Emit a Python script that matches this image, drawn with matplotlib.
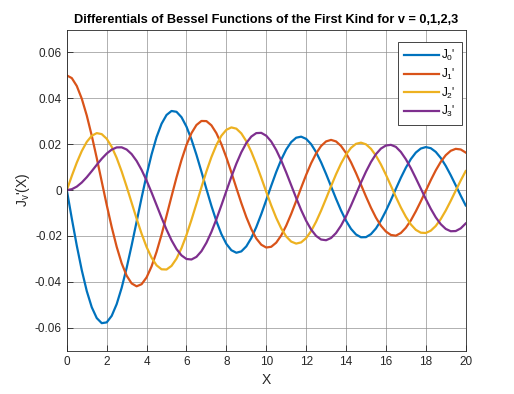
import numpy as np
import matplotlib
matplotlib.use('Agg')
import matplotlib.pyplot as plt

# --- Data (differences of J_v on a 0.1 grid) ---
x = np.linspace(0, 20, 81)

dj0 = [0.0, -0.01240, -0.02423, -0.03492, -0.04401, -0.05106, -0.05579, -0.05801, -0.05767, -0.05483,
       -0.04971, -0.04260, -0.03391, -0.02411, -0.01374, -0.00333, 0.00660, 0.01555, 0.02311, 0.02892,
       0.03276, 0.03450, 0.03414, 0.03179, 0.02767, 0.02207, 0.01538, 0.00803, 0.00047, -0.00686,
       -0.01353, -0.01916, -0.02346, -0.02621, -0.02731, -0.02672, -0.02453, -0.02091, -0.01613, -0.01049,
       -0.00435, 0.00190, 0.00789, 0.01325, 0.01768, 0.02093, 0.02284, 0.02330, 0.02234, 0.02003,
       0.01655, 0.01212, 0.00703, 0.00161, -0.00380, -0.00889, -0.01334, -0.01689, -0.01934, -0.02056,
       -0.02051, -0.01919, -0.01672, -0.01326, -0.00904, -0.00435, 0.00057, 0.00539, 0.00977, 0.01352,
       0.01637, 0.01813, 0.01876, 0.01827, 0.01666, 0.01403, 0.01057, 0.00650, 0.00209, -0.00240,
       -0.00668]

dj1 = [0.05, 0.04883, 0.04539, 0.03986, 0.03252, 0.02374, 0.01399, 0.00375, -0.00645, -0.01610,
       -0.02472, -0.03190, -0.03731, -0.04069, -0.04194, -0.04102, -0.03806, -0.03326, -0.02692, -0.01942,
       -0.01121, -0.00274, 0.00552, 0.01312, 0.01968, 0.02484, 0.02838, 0.03014, 0.03008, 0.02825,
       0.02483, 0.02005, 0.01423, 0.00774, 0.00097, -0.00565, -0.01176, -0.01700, -0.02109, -0.02381,
       -0.02503, -0.02471, -0.02291, -0.01977, -0.01551, -0.01040, -0.00478, 0.00102, 0.00663, 0.01172,
       0.01601, 0.01923, 0.02123, 0.02189, 0.02122, 0.01925, 0.01615, 0.01212, 0.00742, 0.00234,
       -0.00279, -0.00767, -0.01200, -0.01553, -0.01806, -0.01956, -0.01986, -0.01869, -0.01641, -0.01322,
       -0.00926, -0.00489, -0.00029, 0.00433, 0.00862, 0.01232, 0.01522, 0.01714, 0.01799, 0.01772,
       0.01637]

dj2 = [0.0, 0.00619, 0.01199, 0.01704, 0.02102, 0.02368, 0.02485, 0.02441, 0.02239, 0.01887,
       0.01403, 0.00813, 0.00150, -0.00550, -0.01247, -0.01903, -0.02481, -0.02948, -0.03279, -0.03453,
       -0.03462, -0.03304, -0.02988, -0.02530, -0.01957, -0.01299, -0.00592, 0.00125, 0.00814, 0.01439,
       0.01967, 0.02370, 0.02629, 0.02733, 0.02679, 0.02473, 0.02131, 0.01675, 0.01133, 0.00538,
       -0.00075, -0.00669, -0.01211, -0.01670, -0.02021, -0.02245, -0.02332, -0.02279, -0.02093, -0.01785,
       -0.01377, -0.00895, -0.00368, 0.00171, 0.00691, 0.01160, 0.01551, 0.01842, 0.02018, 0.02069,
       0.01996, 0.01802, 0.01503, 0.01118, 0.00671, 0.00190, -0.00298, -0.00758, -0.01163, -0.01496,
       -0.01733, -0.01857, -0.01869, -0.01769, -0.01563, -0.01263, -0.00891, -0.00469, -0.00023, 0.00418,
       0.00829]

dj3 = [0.0, 0.00039, 0.00152, 0.00331, 0.00562, 0.00826, 0.01102, 0.01366, 0.01594, 0.01765,
       0.01861, 0.01865, 0.01770, 0.01570, 0.01271, 0.00880, 0.00415, -0.00105, -0.00653, -0.01202,
       -0.01723, -0.02188, -0.02570, -0.02847, -0.03003, -0.03025, -0.02911, -0.02664, -0.02296, -0.01823,
       -0.01270, -0.00665, -0.00038, 0.00578, 0.01151, 0.01650, 0.02052, 0.02334, 0.02485, 0.02496,
       0.02371, 0.02117, 0.01750, 0.01292, 0.00770, 0.00215, -0.00342, -0.00869, -0.01337, -0.01720,
       -0.01998, -0.02155, -0.02185, -0.02088, -0.01871, -0.01548, -0.01141, -0.00673, -0.00173, 0.00329,
       0.00804, 0.01224, 0.01566, 0.01810, 0.01944, 0.01973, 0.01885, 0.01663, 0.01346, 0.00959,
       0.00519, 0.00066, -0.00386, -0.00814, -0.01188, -0.01486, -0.01692, -0.01793, -0.01785, -0.01669,
       -0.01455]

series = [dj0, dj1, dj2, dj3]
labels = ["J$_0$'", "J$_1$'", "J$_2$'", "J$_3$'"]
colors = ['#0072BD', '#D95319', '#EDB120', '#7E2F8E']

x_ticks = np.arange(0, 21, 2)
y_ticks = [-0.06, -0.04, -0.02, 0, 0.02, 0.04, 0.06]
y_tick_labels = ['-0.06', '-0.04', '-0.02', '0', '0.02', '0.04', '0.06']

plt.rcParams['font.family'] = ['Liberation Sans', 'DejaVu Sans']
plt.rcParams['mathtext.default'] = 'regular'

fig = plt.figure(figsize=(5.14, 3.94), dpi=100)
ax = fig.add_axes([0.13, 0.11, 0.776, 0.815])

for y, lab, c in zip(series, labels, colors):
    ax.plot(x, y, color=c, linewidth=1.6, label=lab)

ax.set_xlim(0, 20)
ax.set_ylim(-0.07, 0.07)
ax.set_xticks(x_ticks)
ax.set_yticks(y_ticks)
ax.set_yticklabels(y_tick_labels)
ax.tick_params(direction='in', length=4, labelsize=8.5, colors='#262626', width=0.6)
ax.grid(True, color='#8c8c8c', linewidth=0.6, alpha=0.8)
for s in ax.spines.values():
    s.set_color('#262626')
    s.set_linewidth(0.6)

ax.set_title('Differentials of Bessel Functions of the First Kind for v = 0,1,2,3',
             fontsize=9.2, fontweight='bold', pad=5)
ax.set_xlabel('X', fontsize=10, color='#262626', labelpad=4)
ax.set_ylabel("J$_v$'(X)", fontsize=10, color='#262626', labelpad=2)

# legend box sits a little below the top edge, close to the right spine
leg = ax.legend(loc='upper right', bbox_to_anchor=(0.99, 0.96), fontsize=8.5,
                fancybox=False, framealpha=1, edgecolor='#262626',
                handlelength=3.0, handletextpad=0.2, borderaxespad=0,
                labelspacing=0.3, borderpad=0.5)
leg.get_frame().set_linewidth(0.6)

fig.savefig('out.png', dpi=100)
plt.close(fig)
